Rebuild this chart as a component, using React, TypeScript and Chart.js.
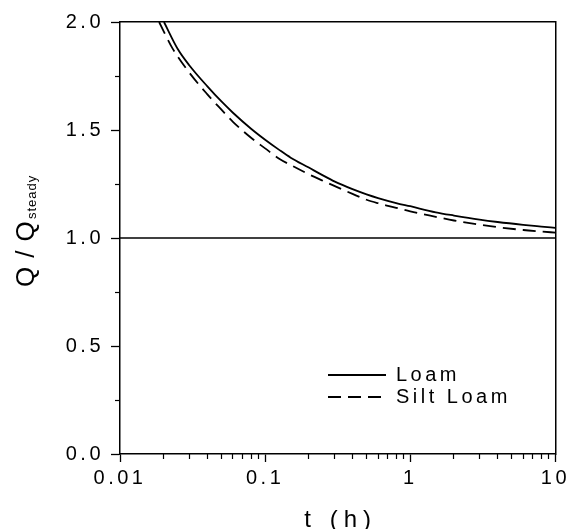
import { useEffect, useRef } from 'react';
import { Chart, registerables } from 'chart.js';

Chart.register(...registerables);

// ---- data ----
const seriesNames = ['Loam', 'Silt Loam'];

const loamT = [0.0201, 0.025, 0.03, 0.04, 0.05, 0.06, 0.08, 0.1, 0.125, 0.15, 0.2, 0.25, 0.3, 0.4, 0.5, 0.6, 0.8, 1, 1.5, 2, 3, 4, 6, 8, 10];
const loamQ = [2.0, 1.875, 1.8, 1.702, 1.632, 1.58, 1.506, 1.455, 1.408, 1.372, 1.326, 1.29, 1.262, 1.226, 1.202, 1.185, 1.162, 1.147, 1.119, 1.104, 1.085, 1.074, 1.061, 1.053, 1.047];

const siltT = [0.0186, 0.023, 0.03, 0.04, 0.05, 0.06, 0.08, 0.1, 0.125, 0.15, 0.2, 0.25, 0.3, 0.4, 0.5, 0.6, 0.8, 1, 1.5, 2, 3, 4, 6, 8, 10];
const siltQ = [2.0, 1.878, 1.766, 1.665, 1.594, 1.538, 1.464, 1.415, 1.367, 1.338, 1.295, 1.265, 1.241, 1.204, 1.177, 1.161, 1.14, 1.123, 1.098, 1.081, 1.062, 1.05, 1.037, 1.03, 1.025];

const steadyT = [0.01, 10];
const steadyQ = [1, 1];

const xMajorTicks = [0.01, 0.1, 1, 10];
const xTickLabels = ['0.01', '0.1', '1', '10'];
const xMinorTicks = [0.02, 0.03, 0.04, 0.05, 0.06, 0.07, 0.08, 0.09, 0.2, 0.3, 0.4, 0.5, 0.6, 0.7, 0.8, 0.9, 2, 3, 4, 5, 6, 7, 8, 9];
const yMajorTicks = [0, 0.5, 1, 1.5, 2];
const yTickLabels = ['0.0', '0.5', '1.0', '1.5', '2.0'];
const yMinorTicks = [0.25, 0.75, 1.25, 1.75];

const xTitle = 't (h)';
const yTitleMain = 'Q/Q';
const yTitleSub = 'steady';

// ---- styling ----
const FONT = '"Liberation Sans", Arial, Helvetica, sans-serif';
const BLACK = '#000';
const SPACING = '3.5px';

const toPoints = (xs: number[], ys: number[]) => xs.map((x, i) => ({ x, y: ys[i] }));
const setTicks = (values: number[]) => (scale: any) => {
  scale.ticks = values.map((v) => ({ value: v }));
};

const spacingPlugin = {
  id: 'spacing',
  beforeLayout(chart: any) {
    chart.ctx.letterSpacing = SPACING;
  },
  beforeDraw(chart: any) {
    chart.ctx.letterSpacing = SPACING;
  },
};

const legendPlacePlugin = {
  id: 'legendPlace',
  afterLayout(chart: any) {
    const lg = chart.legend;
    if (!lg) return;
    const area = chart.chartArea;
    const pad = lg.options.labels.padding;
    lg.left = area.left + 208 - pad;
    lg.top = area.top + 343 - pad;
    lg.right = lg.left + 260;
    lg.bottom = lg.top + 120;
  },
};

const titlesPlugin = {
  id: 'titles',
  afterDraw(chart: any) {
    const ctx = chart.ctx;
    const area = chart.chartArea;
    ctx.save();
    ctx.fillStyle = BLACK;
    // x title
    ctx.font = `24px ${FONT}`;
    ctx.letterSpacing = '6px';
    ctx.textAlign = 'center';
    ctx.textBaseline = 'alphabetic';
    ctx.fillText(xTitle, (area.left + area.right) / 2 + 3, area.bottom + 73);
    // y title (rotated, with subscript)
    ctx.translate(34, (area.top + area.bottom) / 2 + 49);
    ctx.rotate(-Math.PI / 2);
    ctx.textAlign = 'left';
    ctx.font = `26px ${FONT}`;
    ctx.letterSpacing = '9px';
    ctx.fillText(yTitleMain, 0, 0);
    ctx.font = `13px ${FONT}`;
    ctx.letterSpacing = '1px';
    ctx.fillText(yTitleSub, 68, 2);
    ctx.restore();
  },
};

function buildConfig(): any {
  const tickFont = { family: FONT, size: 20 };
  return {
    type: 'line',
    data: {
      datasets: [
        {
          label: seriesNames[0],
          data: toPoints(loamT, loamQ),
          xAxisID: 'x',
          yAxisID: 'y',
          borderColor: BLACK,
          backgroundColor: BLACK,
          borderWidth: 1.8,
          pointRadius: 0,
          cubicInterpolationMode: 'monotone',
          fill: false,
        },
        {
          label: seriesNames[1],
          data: toPoints(siltT, siltQ),
          xAxisID: 'x',
          yAxisID: 'y',
          borderColor: BLACK,
          backgroundColor: BLACK,
          borderWidth: 1.8,
          borderDash: [13, 7],
          pointRadius: 0,
          cubicInterpolationMode: 'monotone',
          fill: false,
        },
        {
          label: 'steady',
          data: toPoints(steadyT, steadyQ),
          xAxisID: 'x',
          yAxisID: 'y',
          borderColor: BLACK,
          borderWidth: 1.5,
          pointRadius: 0,
          fill: false,
        },
      ],
    },
    options: {
      responsive: false,
      animation: false,
      devicePixelRatio: 1,
      events: [],
      layout: { padding: { top: 22, right: 15, left: 0, bottom: 0 } },
      plugins: {
        tooltip: { enabled: false },
        title: { display: false },
        legend: {
          display: true,
          position: 'chartArea',
          align: 'start',
          labels: {
            usePointStyle: true,
            pointStyle: 'line',
            pointStyleWidth: 58,
            padding: 2,
            color: BLACK,
            font: { family: FONT, size: 20 },
            filter: (item: any) => item.datasetIndex < 2,
            generateLabels: (chart: any) => {
              const base = Chart.defaults.plugins.legend.labels.generateLabels(chart);
              return base.map((item: any) => {
                const ds = chart.data.datasets[item.datasetIndex];
                return {
                  ...item,
                  pointStyle: 'line',
                  strokeStyle: ds.borderColor,
                  lineWidth: ds.borderWidth,
                  lineDash: ds.borderDash || [],
                };
              });
            },
          },
        },
      },
      scales: {
        x: {
          type: 'logarithmic',
          position: 'bottom',
          weight: 1,
          min: 0.01,
          max: 10,
          afterBuildTicks: setTicks(xMajorTicks),
          afterFit: (s: any) => {
            s.height = 75;
          },
          ticks: {
            autoSkip: false,
            maxRotation: 0,
            minRotation: 0,
            padding: 4,
            color: BLACK,
            font: tickFont,
            callback: (_v: any, i: number) => xTickLabels[i],
          },
          grid: { drawOnChartArea: false, drawTicks: true, tickLength: 8, tickColor: BLACK, tickWidth: 1.3 },
          border: { display: true, color: BLACK, width: 1.5 },
        },
        xMinor: {
          type: 'logarithmic',
          position: 'bottom',
          weight: 0,
          min: 0.01,
          max: 10,
          afterBuildTicks: setTicks(xMinorTicks),
          afterFit: (s: any) => {
            s.height = 0;
          },
          ticks: { display: false },
          grid: { drawOnChartArea: false, drawTicks: true, tickLength: 5, tickColor: BLACK, tickWidth: 1.2 },
          border: { display: false },
        },
        xTop: {
          type: 'logarithmic',
          position: 'top',
          min: 0.01,
          max: 10,
          afterFit: (s: any) => {
            s.height = 0;
          },
          ticks: { display: false },
          grid: { drawOnChartArea: false, drawTicks: false },
          border: { display: true, color: BLACK, width: 1.5 },
        },
        y: {
          type: 'linear',
          position: 'left',
          weight: 1,
          min: 0,
          max: 2,
          afterBuildTicks: setTicks(yMajorTicks),
          afterFit: (s: any) => {
            s.width = 120;
          },
          ticks: {
            autoSkip: false,
            padding: 7,
            color: BLACK,
            font: tickFont,
            callback: (_v: any, i: number) => yTickLabels[i],
          },
          grid: { drawOnChartArea: false, drawTicks: true, tickLength: 9, tickColor: BLACK, tickWidth: 1.3 },
          border: { display: true, color: BLACK, width: 1.5 },
        },
        yMinor: {
          type: 'linear',
          position: 'left',
          weight: 0,
          min: 0,
          max: 2,
          afterBuildTicks: setTicks(yMinorTicks),
          afterFit: (s: any) => {
            s.width = 0;
          },
          ticks: { display: false },
          grid: { drawOnChartArea: false, drawTicks: true, tickLength: 5, tickColor: BLACK, tickWidth: 1.2 },
          border: { display: false },
        },
        yRight: {
          type: 'linear',
          position: 'right',
          min: 0,
          max: 2,
          afterFit: (s: any) => {
            s.width = 0;
          },
          ticks: { display: false },
          grid: { drawOnChartArea: false, drawTicks: false },
          border: { display: true, color: BLACK, width: 1.5 },
        },
      },
    },
    plugins: [spacingPlugin, legendPlacePlugin, titlesPlugin],
  };
}

export default function App() {
  const canvasRef = useRef<HTMLCanvasElement | null>(null);

  useEffect(() => {
    if (!canvasRef.current) return;
    const chart = new Chart(canvasRef.current, buildConfig());
    return () => {
      chart.destroy();
    };
  }, []);

  return (
    <div style={{ position: 'fixed', left: 0, top: 0, width: 574, height: 529, background: '#fff' }}>
      <canvas ref={canvasRef} width={574} height={529} style={{ display: 'block', width: 574, height: 529 }} />
    </div>
  );
}
